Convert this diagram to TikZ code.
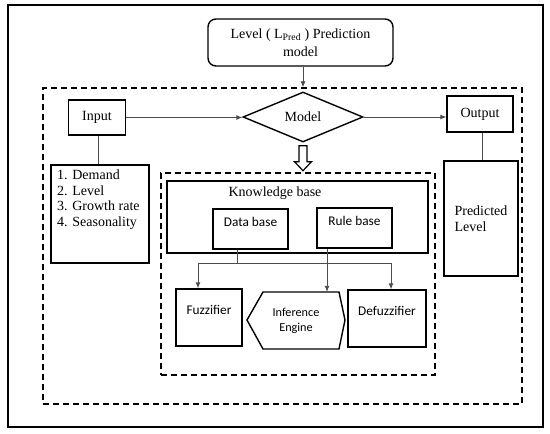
\documentclass[tikz,border=0pt]{standalone}
\usepackage{fontspec}
\setmainfont{Liberation Serif}
\newfontfamily\calib{Carlito}
\usetikzlibrary{arrows.meta,shapes.geometric,calc}
\begin{document}
\begin{tikzpicture}[x=1pt,y=-1pt,
  box/.style={draw=black, line width=1.4pt, rectangle, inner sep=0pt},
  dbox/.style={draw=black, line width=1.5pt, dash pattern=on 6pt off 4pt, rectangle, inner sep=0pt},
  conn/.style={draw=black!70, line width=0.9pt},
  arr/.style={conn, -{Latex[length=6pt,width=5pt]}},
  serif/.style={font=\fontsize{14}{15.7}\selectfont},
  sans/.style={font=\calib\fontsize{13.3}{15}\selectfont},
  sanssmall/.style={font=\calib\fontsize{12.2}{15}\selectfont},
  txt/.style={inner sep=0pt},
]
\useasboundingbox (0,0) rectangle (550,434);
\fill[white] (0,0) rectangle (550,434);

% frames
\node[box, minimum width=535pt, minimum height=422pt] (outer) at (275.5,216) {};
\node[dbox, minimum width=479pt, minimum height=316pt] (outerdash) at (282.5,246) {};
\node[dbox, minimum width=274pt, minimum height=202pt] (innerdash) at (298,274) {};

% title
\node[box, rounded corners=8pt, minimum width=185pt, minimum height=47pt, align=center,
      font=\fontsize{14}{18}\selectfont] (title) at (300.5,42.5)
  {Level ( L\textsubscript{Pred} ) Prediction\\model};

% top row
\node[box, serif, minimum width=57pt, minimum height=35pt] (input) at (97,117.5) {Input};
\node[draw=black, line width=1.4pt, diamond, inner sep=0pt, minimum width=120pt, minimum height=50pt, serif] (model) at (303,117) {Model};
\node[box, serif, minimum width=66pt, minimum height=36pt] (output) at (480,114) {Output};

% side boxes
\node[box, minimum width=98pt, minimum height=98pt] (list) at (100,214) {};
\node[txt, serif, align=left, anchor=north west] (listtext) at (57,169.5)
  {1. Demand\\2. Level\\3. Growth rate\\4. Seasonality};
\node[box, serif, align=left, minimum width=74pt, minimum height=115pt, font=\fontsize{14}{15.5}\selectfont] (predicted) at (481,218.5) {Predicted\\Level};

% knowledge base
\node[box, minimum width=261pt, minimum height=72pt] (knowledge) at (297.5,217) {};
\node[txt, serif] (kbtext) at (275,193) {Knowledge base};
\node[box, minimum width=75pt, minimum height=40pt] (database) at (250.5,229) {};
\node[txt, sans] (dbtext) at (250.5,222) {Data base};
\node[box, minimum width=75pt, minimum height=40pt] (rulebase) at (354.5,228) {};
\node[txt, sans] (rbtext) at (354.5,221) {Rule base};

% fuzzy blocks
\node[box, minimum width=66pt, minimum height=57pt] (fuzzifier) at (209,317.5) {};
\node[txt, sans] (fztext) at (209,310) {Fuzzifier};
\node[inner sep=0pt, minimum width=98pt, minimum height=57pt, align=center, sanssmall] (hex) at (296,320.5) {Inference\\Engine};
\draw[line width=1.4pt] (263,292) -- (339,292) -- (345,320) -- (339,349) -- (263,349) -- (247,320) -- cycle;
\node[box, minimum width=78pt, minimum height=57pt] (defuzzifier) at (387,318.5) {};
\node[txt, sans] (dftext) at (387,311) {Defuzzifier};

% connectors
\draw[arr] (title.south -| model.north) -- (model.north |- outerdash.north);
\draw[arr] (input.east) -- (input.east -| model.west);
\draw[arr] (model.east) -- (model.east -| output.west);
\draw[conn] ([xshift=1pt]input.south) -- ([xshift=1pt]input.south |- list.north);
\draw[conn] ([xshift=2pt]output.south) -- ([xshift=2pt]output.south |- predicted.north);

% hollow arrow
\draw[line width=1.2pt, fill=white] ($(model.south)+(-4,3)$) -- ++(0,16) -- ++(-4.5,0)
  -- ($(model.south)+(0,28)$) -- ($(model.south)+(8.5,19)$) -- ++(-4.5,0) -- ($(model.south)+(4,3)$) -- cycle;

\coordinate (j) at ($(database.south)+(-13.5,14)$);
\draw[conn] ([xshift=-13.5pt]database.south) -- (j);
\draw[arr] (j) -| ([xshift=-11pt]fuzzifier.north);
\draw[arr] (j) -| ([xshift=4pt]defuzzifier.north);
\draw[arr] ([xshift=-27.5pt]rulebase.south) -- ([xshift=-27.5pt]rulebase.south |- hex.north);
\end{tikzpicture}
\end{document}
